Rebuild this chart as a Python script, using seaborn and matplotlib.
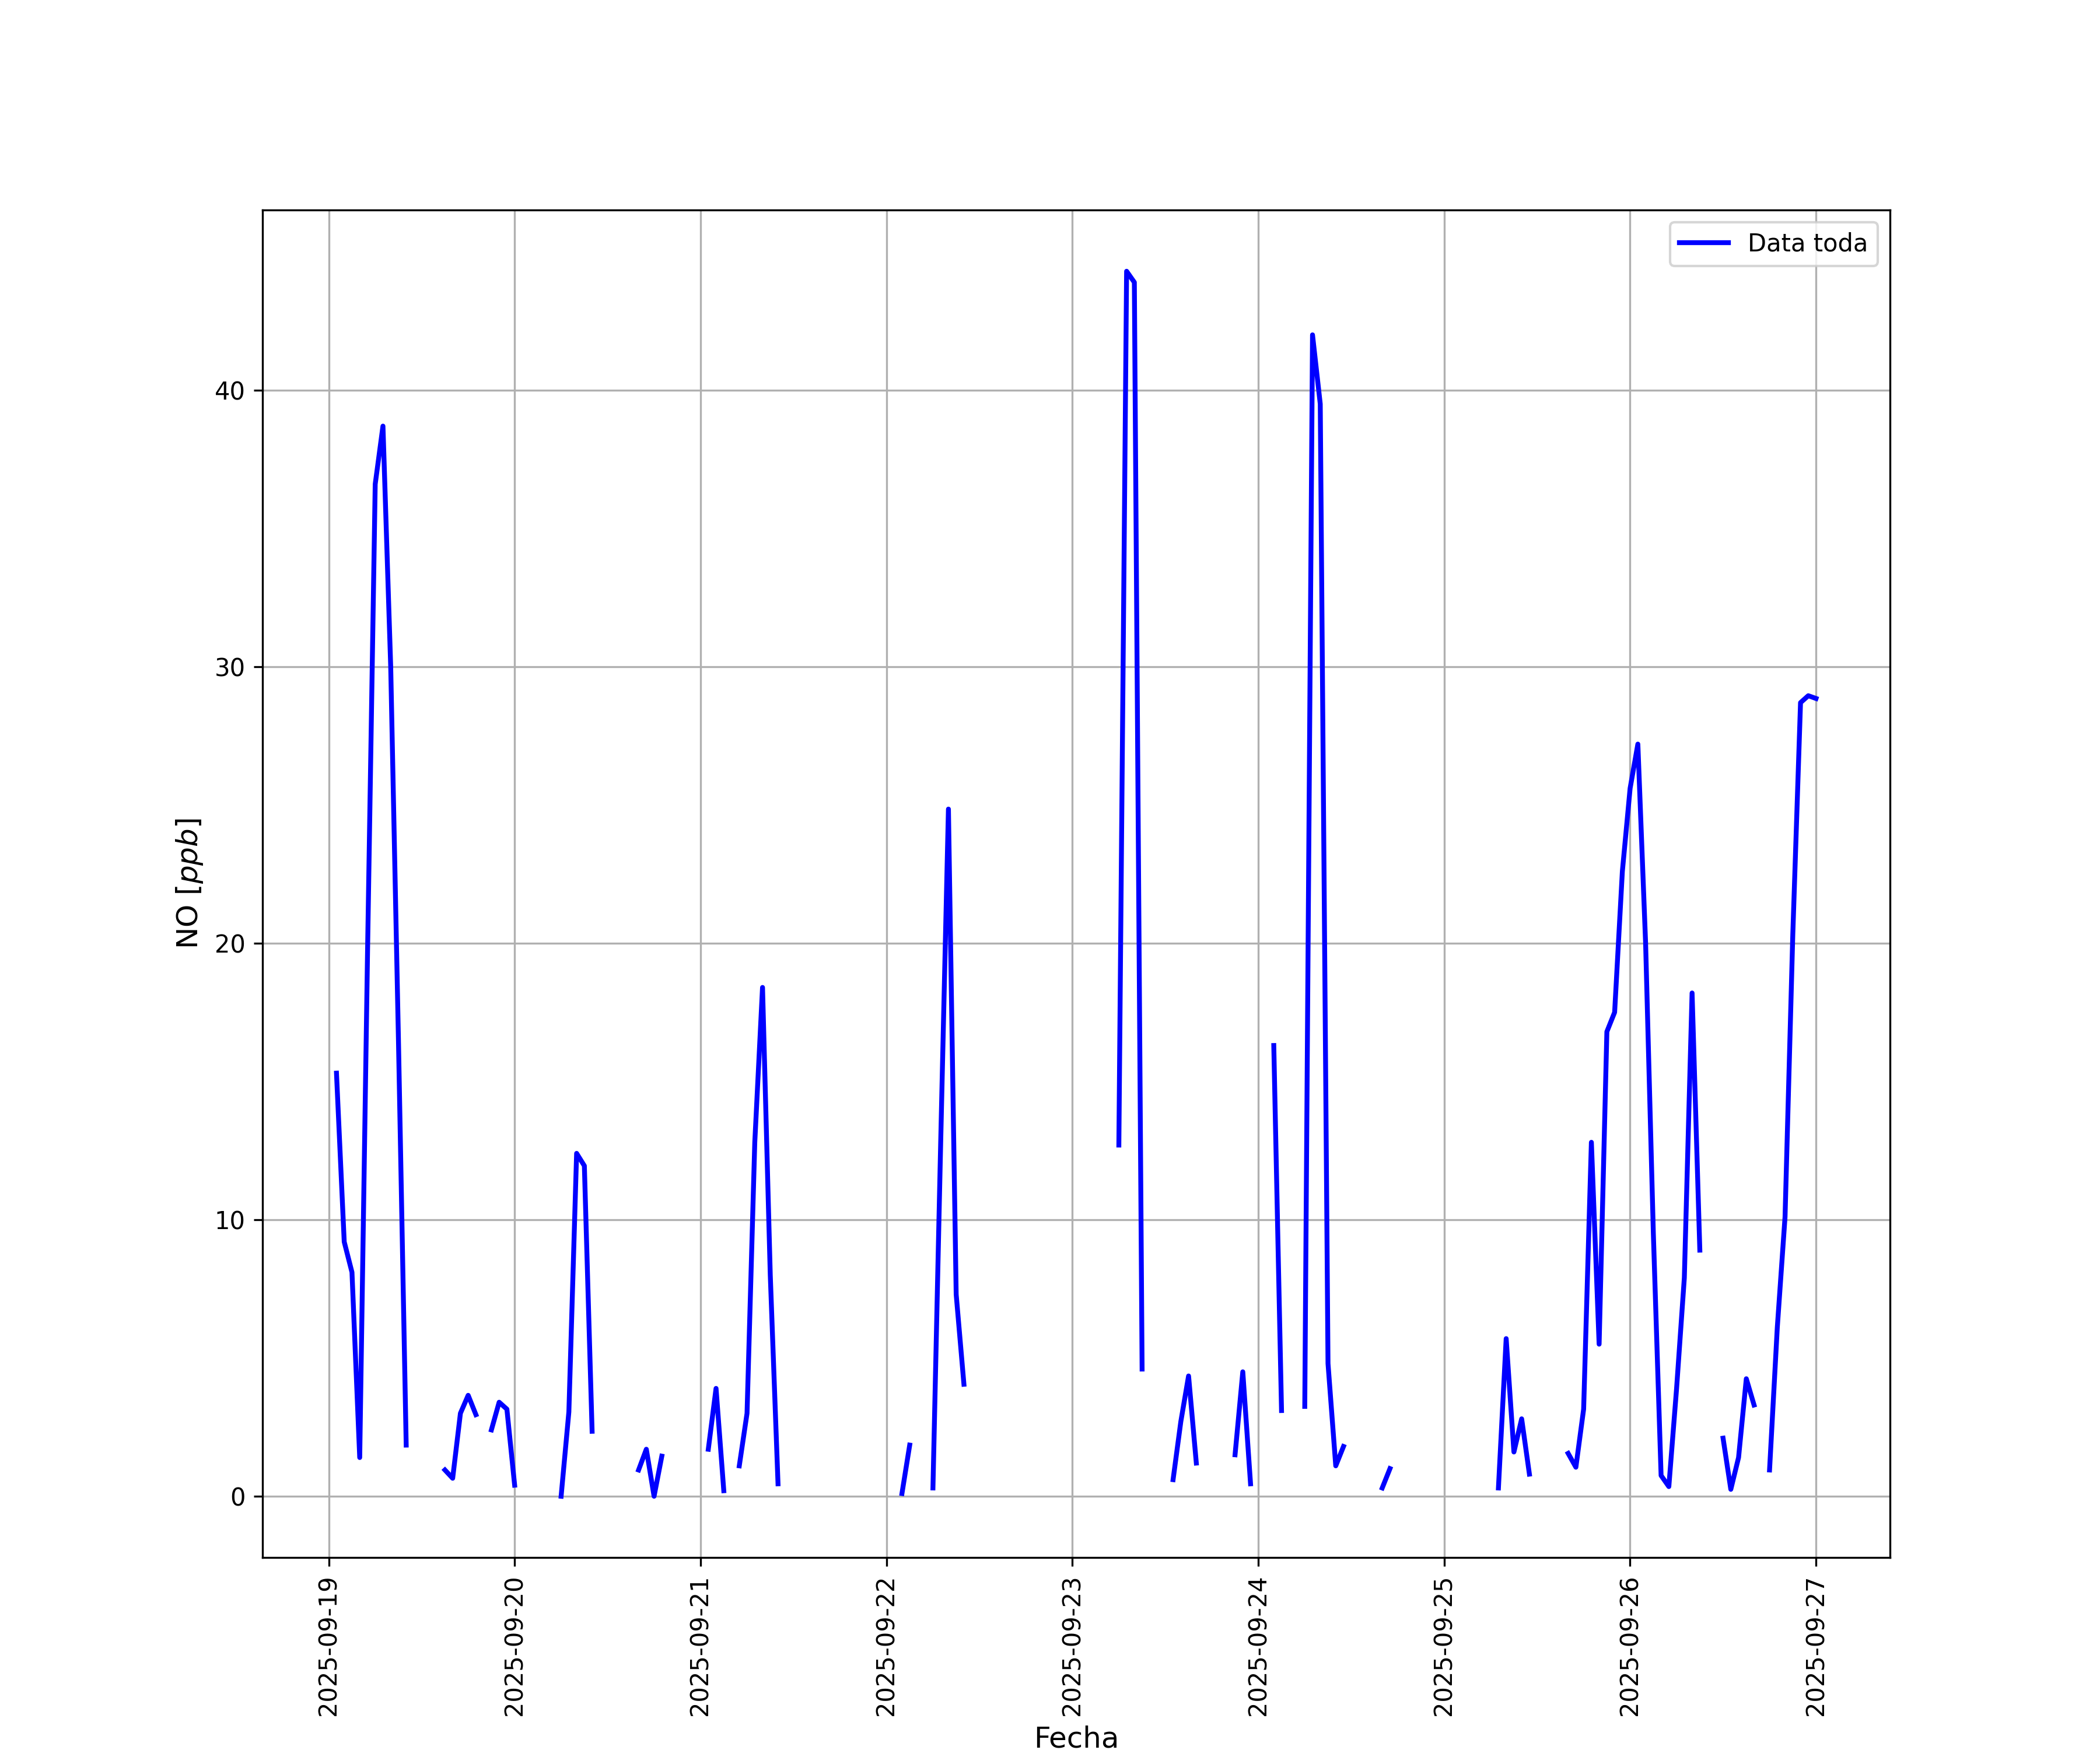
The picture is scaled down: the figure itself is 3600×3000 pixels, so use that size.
import numpy as np
import pandas as pd
import matplotlib
matplotlib.use('Agg')
import matplotlib.pyplot as plt
import seaborn as sns
from matplotlib.lines import Line2D

nan = np.nan

# hourly NO values (ppb), hours 01:00 .. 24:00 of each day, NaN = no data
dia_19 = [15.3, 9.2, 8.1, 1.4, 19.5, 36.6, 38.7, 30.0, 16.5, 1.85, nan, nan,
          nan, nan, 0.95, 0.65, 3.0, 3.65, 2.95, nan, 2.4, 3.4, 3.15, 0.4]
dia_20 = [nan, nan, nan, nan, nan, 0.0, 3.05, 12.4, 11.95, 2.35, nan, nan,
          nan, nan, nan, 0.95, 1.7, 0.0, 1.45, nan, nan, nan, nan, nan]
dia_21 = [1.7, 3.9, 0.2, nan, 1.1, 3.0, 12.8, 18.4, 8.0, 0.45, nan, nan,
          nan, nan, nan, nan, nan, nan, nan, nan, nan, nan, nan, nan]
dia_22 = [nan, 0.1, 1.85, nan, nan, 0.3, 12.8, 24.85, 7.3, 4.05, nan, nan,
          nan, nan, nan, nan, nan, nan, nan, nan, nan, nan, nan, nan]
dia_23 = [nan, nan, nan, nan, nan, 12.7, 44.3, 43.9, 4.6, nan, nan, nan,
          0.6, 2.7, 4.35, 1.2, nan, nan, nan, nan, 1.5, 4.5, 0.45, nan]
dia_24 = [nan, 16.3, 3.1, nan, nan, 3.25, 42.0, 39.5, 4.8, 1.1, 1.8, nan,
          nan, nan, nan, 0.3, 1.0, nan, nan, nan, nan, nan, nan, nan]
dia_25 = [nan, nan, nan, nan, nan, nan, 0.3, 5.7, 1.6, 2.8, 0.8, nan,
          nan, nan, nan, 1.55, 1.05, 3.15, 12.8, 5.5, 16.8, 17.5, 22.6, 25.6]
dia_26 = [27.2, 20.0, 9.5, 0.75, 0.35, 3.9, 7.9, 18.2, 8.9, nan, nan, 2.1,
          0.25, 1.4, 4.25, 3.3, nan, 0.95, 6.1, 10.1, 20.3, 28.7, 28.95, 28.85]

valores = dia_19 + dia_20 + dia_21 + dia_22 + dia_23 + dia_24 + dia_25 + dia_26
fechas = pd.date_range('2025-09-19 01:00', periods=len(valores), freq='h')

df = pd.DataFrame({'Fecha': fechas, 'NO': valores})
# split into contiguous pieces so gaps stay empty
df['tramo'] = df['NO'].isna().cumsum()
df = df.dropna(subset=['NO'])

fig, ax = plt.subplots(figsize=(12, 10))
sns.lineplot(data=df, x='Fecha', y='NO', units='tramo', estimator=None,
             color='blue', linewidth=2, ax=ax)

ax.set_xlabel('Fecha', fontsize=12)
ax.set_ylabel('NO [$ppb$]', fontsize=12)
ax.grid(True)
plt.xticks(rotation=90)
ax.legend(handles=[Line2D([], [], color='blue', linewidth=2, label='Data toda')],
          loc='upper right')

plt.savefig('out.png', dpi=300)
